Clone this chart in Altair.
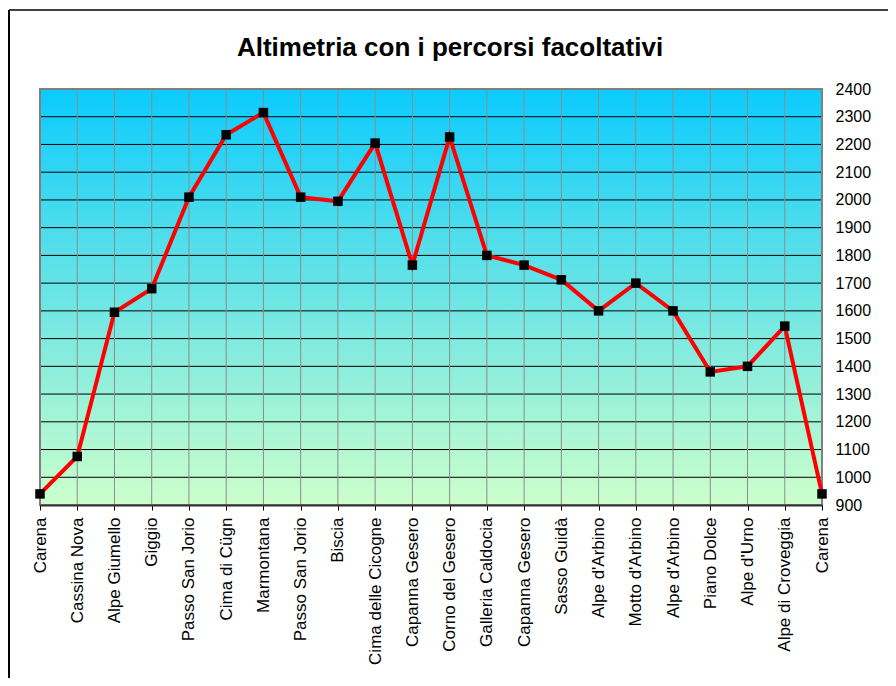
import json
import altair as alt
import pandas as pd

# ---- data ----
stops_names = ["Carena", "Cassina Nova", "Alpe Giumello", "Giggio", "Passo San Jorio",
               "Cima di Cügn", "Marmontana", "Passo San Jorio", "Biscia", "Cima delle Cicogne",
               "Capanna Gesero", "Corno del Gesero", "Galleria Caldocia", "Capanna Gesero",
               "Sasso Guidà", "Alpe d'Arbino", "Motto d'Arbino", "Alpe d'Arbino", "Piano Dolce",
               "Alpe d'Urno", "Alpe di Croveggia", "Carena"]
altitudes = [940, 1075, 1595, 1680, 2010, 2235, 2315, 2010, 1995, 2205,
             1765, 2227, 1800, 1765, 1712, 1600, 1700, 1600, 1380, 1400, 1545, 940]
y_ticks = list(range(900, 2401, 100))
title_text = "Altimetria con i percorsi facoltativi"

W, H = 782, 416
n = len(stops_names)

df = pd.DataFrame({"idx": list(range(n)), "alt": altitudes, "name": stops_names})
df_bg = pd.DataFrame({"idx": [0], "x1": [n - 1], "alt": [y_ticks[0]], "y1": [y_ticks[-1]]})
df_h = pd.DataFrame({"alt": y_ticks[1:-1]})
df_v = pd.DataFrame({"idx": list(range(1, n - 1))})
df_one = pd.DataFrame({"a": [0]})

xscale = alt.Scale(domain=[0, n - 1], nice=False, zero=False)
yscale = alt.Scale(domain=[y_ticks[0], y_ticks[-1]], nice=False, zero=False)

label_expr = json.dumps(stops_names) + "[datum.value]"

xaxis = alt.Axis(values=list(range(n)), labelExpr=label_expr, labelAngle=270,
                 grid=False, title=None, tickColor="#000000", tickSize=5,
                 tickWidth=1, labelPadding=7, labelFontSize=17, labelFont="Arial",
                 labelColor="#000000", domainColor="#333333", domainWidth=2,
                 labelOverlap=False, zindex=1)
yaxis = alt.Axis(orient="right", values=y_ticks, format="d", ticks=False, domain=False,
                 grid=False, title=None, labelPadding=13, labelFontSize=16,
                 labelFont="Arial", labelColor="#000000", labelOverlap=False)

X = alt.X("idx:Q", scale=xscale, axis=xaxis)
Y = alt.Y("alt:Q", scale=yscale, axis=yaxis)

grad = alt.Gradient(
    gradient="linear",
    stops=[alt.GradientStop(color="#0BCBFD", offset=0),
           alt.GradientStop(color="#CCFFCC", offset=1)],
    x1=0, x2=0, y1=0, y2=1,
)

bg = alt.Chart(df_bg).mark_rect(color=grad).encode(x=X, x2="x1", y=Y, y2="y1")

hgrid = alt.Chart(df_h).mark_rule(color="#000000", strokeWidth=1).encode(y=Y)
vgrid = alt.Chart(df_v).mark_rule(color="#8C8C8C", strokeWidth=1).encode(x=X)

border = alt.Chart(df_bg).mark_rect(fillOpacity=0, stroke="#808080", strokeWidth=2).encode(
    x=X, x2="x1", y=Y, y2="y1")

line = alt.Chart(df).mark_line(color="#FF0000", strokeWidth=4).encode(x=X, y=Y)
pts = alt.Chart(df).mark_point(shape="square", filled=True, color="#000000",
                               size=90, opacity=1).encode(x=X, y=Y)

frame_left = alt.Chart(df_one).mark_rule(color="#000000", strokeWidth=2).encode(
    x=alt.value(-31), y=alt.value(-79), y2=alt.value(700)
)
frame_top = alt.Chart(df_one).mark_rule(color="#000000", strokeWidth=1.5).encode(
    x=alt.value(-31), x2=alt.value(900), y=alt.value(-79)
)

chart = alt.layer(bg, hgrid, vgrid, border, line, pts, frame_left, frame_top).properties(
    width=W, height=H,
    title=alt.TitleParams(title_text, fontSize=26, fontWeight="bold", font="Arial",
                          anchor="middle", frame="group", dx=19, offset=-52,
                          color="#000000"),
    autosize=alt.AutoSizeParams(type="none"),
    padding={"left": 32, "top": 81, "right": 66, "bottom": 173},
).configure_view(stroke=None).configure(background="#FFFFFF")

chart.save("out.html", embed_options={"renderer": "svg", "actions": False})
